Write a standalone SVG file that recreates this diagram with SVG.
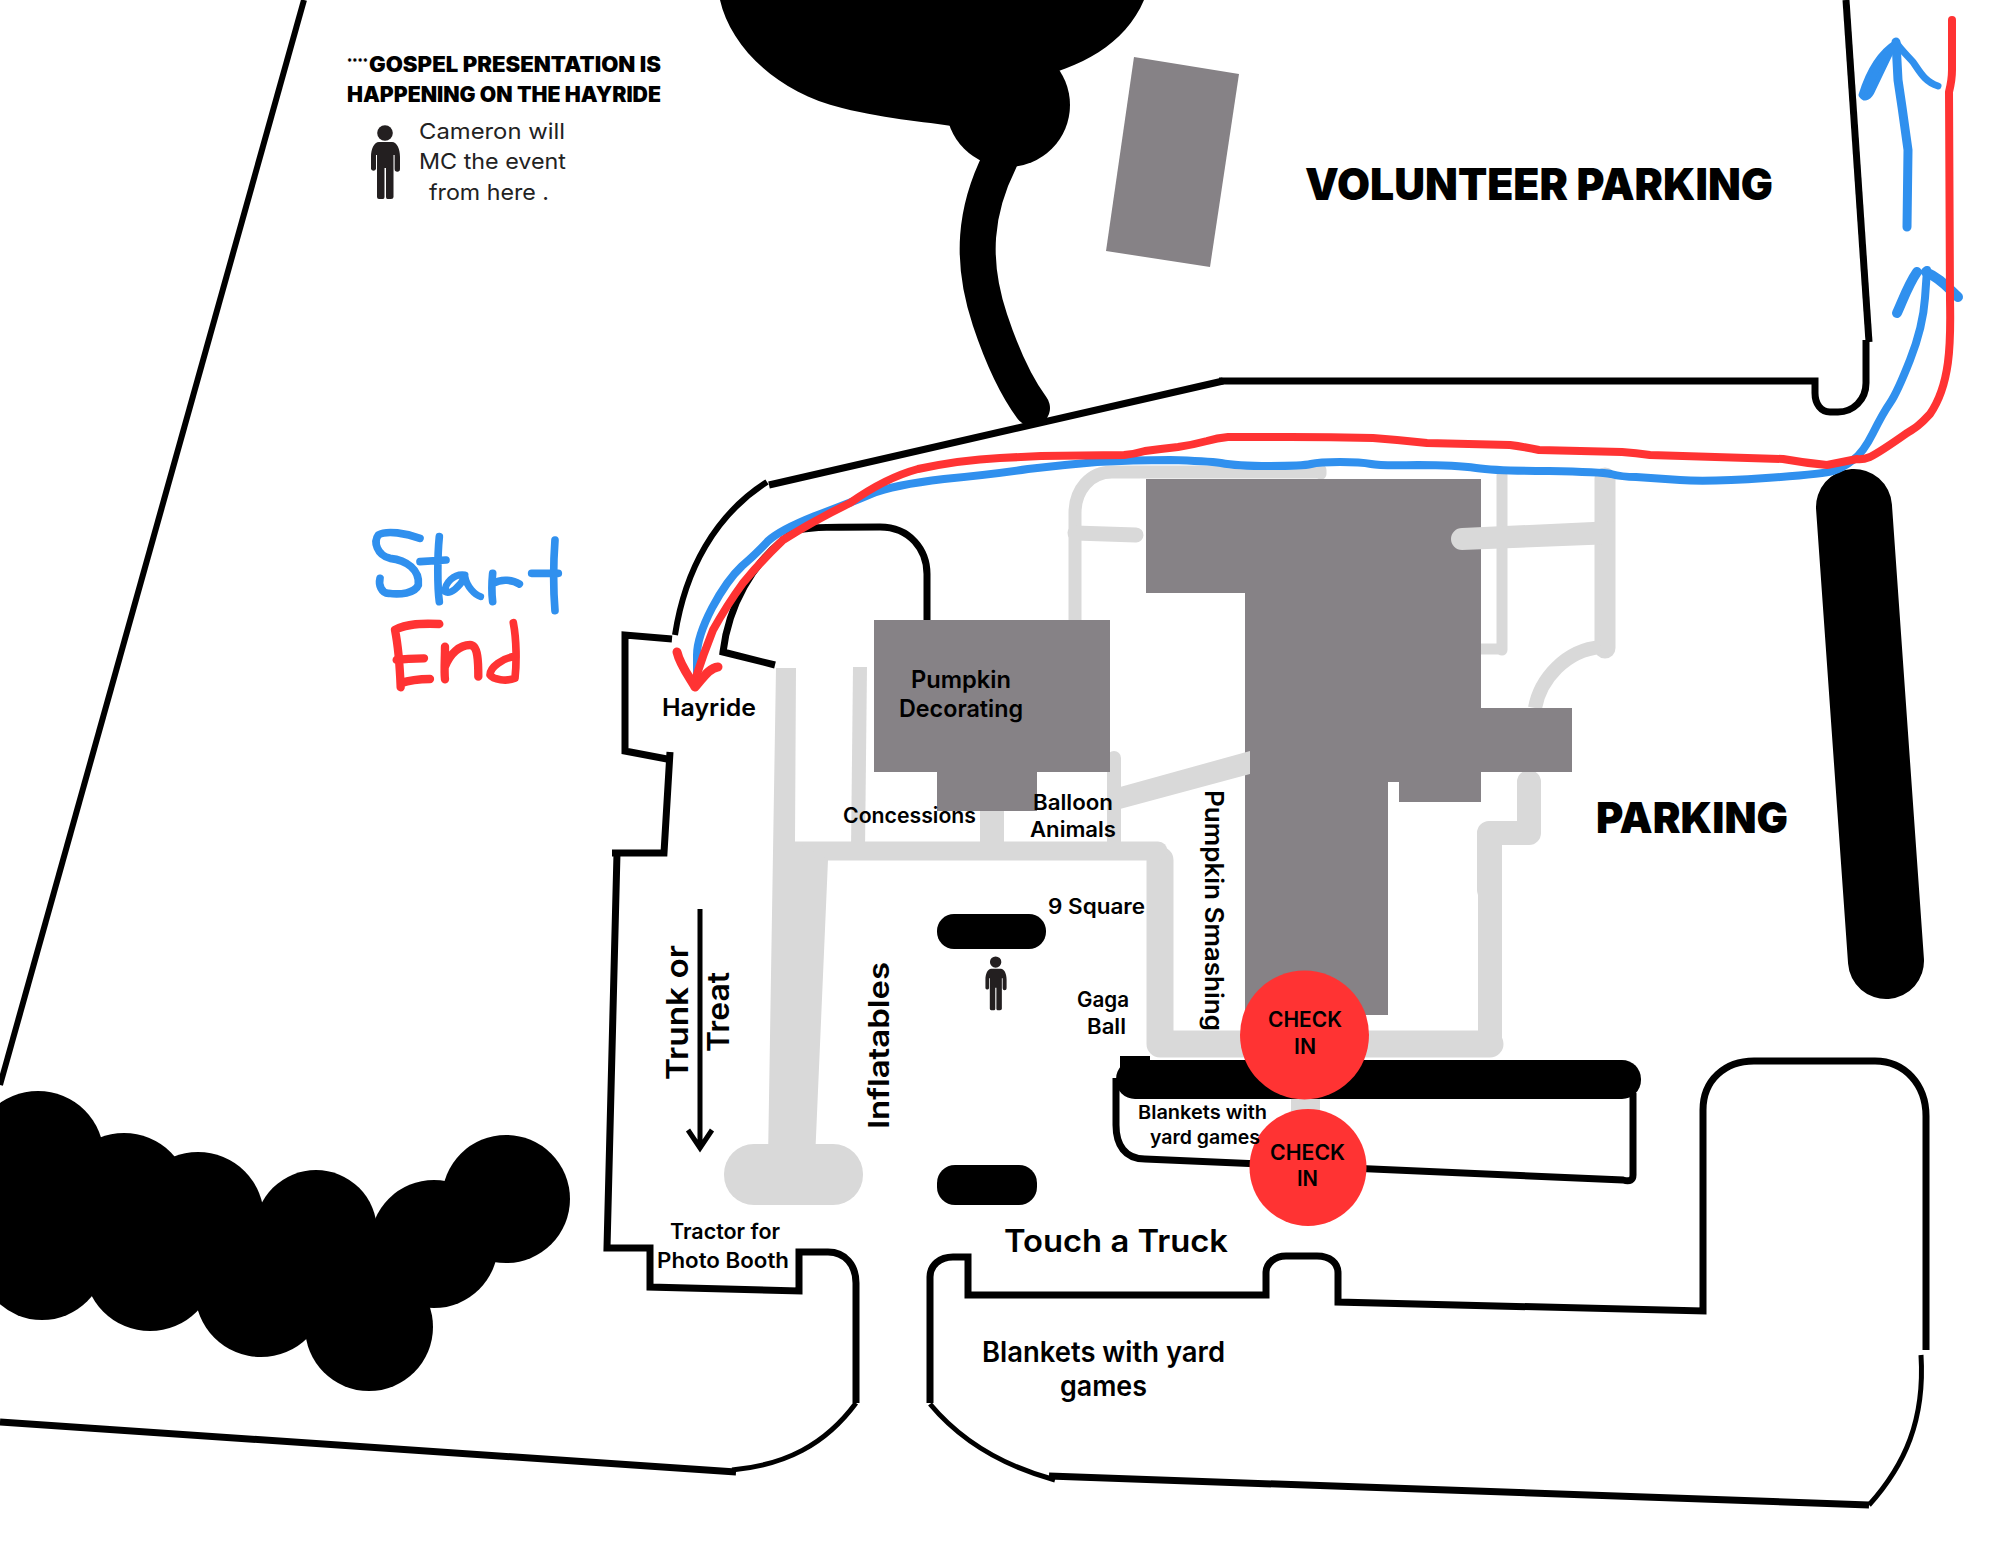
<svg xmlns="http://www.w3.org/2000/svg" width="2000" height="1545" viewBox="0 0 2000 1545">
<defs>
<style>
.w{fill:none;stroke:#000;stroke-width:7;stroke-linejoin:miter}
.t{fill:none;stroke:#000;stroke-width:5}
.p{fill:none;stroke:#d9d9d9;stroke-linecap:butt;stroke-linejoin:round}
.pr{fill:none;stroke:#d9d9d9;stroke-linecap:round;stroke-linejoin:round}
.b{fill:#868286}
.g{fill:#d9d9d9}
.k{fill:#000}
.blue{fill:none;stroke:#3090ee;stroke-linecap:round;stroke-linejoin:round}
.red{fill:none;stroke:#ff3333;stroke-linecap:round;stroke-linejoin:round}
text{font-family:"Inter","Liberation Sans",sans-serif;font-weight:600;fill:#000}
.h{font-weight:900}
.r{font-weight:400;fill:#222;font-size:22px}
.s{font-size:21px}
.m{font-size:24px}
.l{font-size:28px}
</style>
<g id="person"><circle cx="385" cy="133" r="7.8"/><path d="M379 142H392C397 142 400 149 400 157V169A2.7 2.7 0 0 1 394.6 169V155H393.5V197Q393.5 199 391 199H387.5Q386 199 386 197V168H384.5V197Q384.5 199 383 199H379Q377 199 377 197V155H376V169A2.7 2.7 0 0 1 371 169V157C371 149 374 142 379 142Z"/></g>
</defs>
<rect width="2000" height="1545" fill="#fff"/>

<g id="trees">
<path class="k" d="M720 0C730 45 775 92 842 108C890 120 930 122 965 128L1030 79C1080 68 1125 45 1144 0Z"/>
<circle class="k" cx="1008" cy="105" r="62"/>
<path fill="none" stroke="#000" stroke-width="36" stroke-linecap="round" d="M1000 160C975 210 970 260 990 320C1000 350 1015 385 1032 408"/>
<g class="k">
<circle cx="38" cy="1157" r="66"/><circle cx="42" cy="1256" r="64"/><circle cx="124" cy="1199" r="66"/><circle cx="150" cy="1265" r="66"/><circle cx="198" cy="1218" r="66"/><circle cx="261" cy="1291" r="66"/><circle cx="316" cy="1231" r="61"/><circle cx="369" cy="1327" r="64"/><circle cx="434" cy="1244" r="64"/><circle cx="506" cy="1199" r="64"/>
<path d="M0 1150L120 1190L320 1230L500 1200L440 1290L370 1330L150 1290L0 1280Z"/>
</g>
<path fill="none" stroke="#000" stroke-width="76" stroke-linecap="round" d="M1854 507L1886 961"/>
</g>

<g id="walls">
<path class="t" style="stroke-width:6" d="M304 0L0 1085"/>
<path class="w" d="M1846 0L1869 342"/>
<path class="w" d="M1866 340V383C1866 400 1853 412 1838 412H1830C1821 412 1815 404 1815 393V381H1219"/>
<path class="w" d="M1223 381L769 485"/>
<path class="t" style="stroke-width:6" d="M767 482C715 515 685 570 675 635"/>
<path class="w" d="M672 639L625 635V751L667 759"/>
<path class="w" d="M670 752L664 853H612"/>
<path class="w" d="M617 853L607 1248H650V1287L799 1291V1252H828C845 1252 856 1265 856 1283V1403"/>
<path class="t" d="M856 1403C825 1445 785 1465 732 1470"/>
<path class="w" d="M736 1472L0 1422"/>
<path class="w" d="M775 665L723 652C728 610 750 560 797 530C815 527 830 527 880 527C910 527 927 550 927 574V620"/>
<path class="w" d="M930 1403V1277C930 1265 940 1257 953 1257H968V1295H1266V1273C1266 1263 1275 1256 1286 1256H1317C1330 1256 1338 1263 1338 1273V1302L1703 1311V1110C1703 1080 1725 1061 1754 1061H1875C1905 1061 1926 1085 1926 1116V1350"/>
<path class="t" d="M1921 1355C1925 1420 1905 1465 1869 1505"/>
<path class="w" d="M1869 1505L1049 1476"/>
<path class="t" d="M1055 1480C1000 1465 960 1440 930 1404"/>
<path class="w" d="M1116 1078V1125C1116 1145 1125 1159 1145 1159L1623 1180C1630 1182 1633 1180 1633 1175V1093"/>
</g>

<g id="paths">
<path class="p" stroke-width="13" d="M1075 620V513C1075 490 1090 472 1112 472H1321"/><path class="pr" stroke-width="11" d="M1321 470V474"/>
<path class="pr" stroke-width="15" d="M1075 533L1136 535"/>
<path class="pr" stroke-width="11" d="M1502 475V650"/><path class="p" stroke-width="11" d="M1481 649H1502"/>
<path class="pr" stroke-width="21" d="M1605 478V648"/>
<path class="p" stroke-width="14" d="M1535 708C1540 680 1565 650 1601 647"/>
<path class="pr" stroke-width="24" d="M1529 782V833H1489V890"/>
<path class="p" stroke-width="24" d="M1490 833V1040"/>
<path class="pr" stroke-width="27" d="M1160 860V1044H1490"/>
<path class="pr" stroke-width="19" d="M793 851H1158"/>
<path class="g" d="M776 668L778 668H796L795 842L828 860L815 1160H768Z"/>
<rect class="g" x="724" y="1144" width="139" height="61" rx="30"/>
<path class="p" stroke-width="14" d="M860 667L858 850"/>
<rect class="g" x="980" y="805" width="24" height="42"/>
<path class="pr" stroke-width="14" d="M1114 758V845"/>
<rect class="g" x="1291" y="1095" width="29" height="20"/>
</g>

<g id="buildings">
<polygon class="b" points="1134,57 1239,74 1210,267 1106,251"/>
<polygon class="b" points="1146,479 1481,479 1481,708 1572,708 1572,772 1481,772 1481,802 1399,802 1399,782 1388,782 1388,1015 1245,1015 1245,593 1146,593"/>
<polygon class="b" points="874,620 1110,620 1110,772 1037,772 1037,811 937,811 937,772 874,772"/>
<path class="g" d="M1614 521L1462 528A11 11 0 0 0 1462 550L1614 544Z"/>
<path class="g" d="M1120 787L1250 751V774L1120 809Z"/>
</g>

<g id="obstacles">
<rect class="k" x="937" y="914" width="109" height="35" rx="17"/>
<rect class="k" x="937" y="1165" width="100" height="40" rx="18"/>
<rect class="k" x="1116" y="1060" width="525" height="39" rx="19"/>
<rect class="k" x="1120" y="1056" width="30" height="12"/>
</g>

<g id="route-lines">
<path class="blue" stroke-width="8" d="M697 673L697 655Q697 637 712 608Q727 580 742 566Q757 553 768 541Q780 530 815 516Q850 503 871 494Q893 485 944 479Q995 474 1028 469Q1062 465 1097 462Q1133 460 1170 460Q1207 461 1221 463Q1236 466 1270 466Q1303 466 1311 464Q1319 462 1340 462Q1361 462 1371 464Q1381 466 1418 465Q1456 465 1476 468Q1497 471 1549 471Q1601 472 1611 474Q1622 477 1636 477Q1650 478 1680 480Q1709 482 1766 478Q1824 474 1833 471Q1843 468 1853 460Q1863 453 1873 433Q1883 413 1890 403Q1897 393 1910 360Q1923 327 1925 298L1927 270"/>
<path class="blue" stroke-width="10" d="M1917 272C1908 285 1903 300 1897 313M1926 272C1940 278 1948 288 1958 297"/>
<path class="blue" stroke-width="9" d="M1907 227L1908 150L1902 107L1898 80L1896 42"/>
<path class="blue" stroke-width="7" d="M1938 86C1925 82 1920 72 1913 62C1907 55 1900 49 1896 42"/>
<path fill="#3090ee" stroke="#3090ee" stroke-width="5" stroke-linejoin="round" d="M1896 42C1880 52 1868 72 1861 95C1865 101 1870 97 1873 90Z"/>
<path class="red" stroke-width="8" d="M1952 20L1952 70Q1952 80 1949 92L1950 300C1951 345 1950 385 1930 414C1920 425 1915 428 1907 433C1890 445 1880 452 1870 457Q1862 460 1857 459Q1842 462 1827 465Q1805 463 1783 459Q1716 457 1650 455Q1636 453 1622 452Q1580 451 1539 450Q1525 447 1510 445Q1468 444 1427 443Q1400 440 1373 438Q1330 437 1290 437L1228 437Q1217 438 1207 441Q1192 445 1178 447Q1160 449 1145 451Q1135 454 1124 455L1041 456Q1020 457 1000 458Q960 460 918 469Q885 478 850 503Q815 520 783 540Q762 560 743 583Q727 605 713 630Q703 655 695 680"/>
<path class="red" stroke-width="9" d="M677 652C680 665 690 678 695 687C702 680 708 668 718 667"/>
</g>

<g id="start-end" transform="translate(350 480) scale(.3333)">
<path class="blue" stroke-width="23" d="M210 175C170 160 110 150 85 165C70 185 80 225 120 235C170 240 210 270 205 315C195 340 150 345 115 340C95 340 85 315 90 295"/>
<path class="blue" stroke-width="23" d="M268 170C262 230 262 320 268 365M210 245L288 240"/>
<path class="blue" stroke-width="21" d="M345 285C310 280 285 310 285 335C300 345 330 320 345 290C350 320 375 345 392 350"/>
<path class="blue" stroke-width="23" d="M428 280C425 310 425 340 428 365M430 310C455 295 490 300 508 312"/>
<path class="blue" stroke-width="23" d="M615 180C610 250 610 330 615 392M545 280L625 280"/>
<path class="red" stroke-width="25" d="M268 432C220 430 170 430 135 450C145 500 150 570 152 622M140 540C170 535 200 535 222 535M152 610C180 600 210 597 240 597"/>
<path class="red" stroke-width="25" d="M285 500C285 540 282 570 285 598M285 560C300 520 330 495 360 495C385 495 385 550 385 590"/>
<path class="red" stroke-width="23" d="M490 428C500 480 500 550 495 595C470 605 430 600 420 585C420 560 460 535 490 530"/>
</g>

<g id="check-in-1"><circle cx="1304.500" cy="1035" r="64.500" fill="#ff3333"/>
<text x="1268" y="1027" textLength="74" lengthAdjust="spacingAndGlyphs" class="s">CHECK</text>
<text x="1294" y="1054" textLength="22" lengthAdjust="spacingAndGlyphs" class="s">IN</text></g>
<g id="check-in-2"><circle cx="1308" cy="1167.500" r="58.500" fill="#ff3333"/>
<text x="1270" y="1160" textLength="75" lengthAdjust="spacingAndGlyphs" class="s">CHECK</text>
<text x="1297" y="1186" textLength="21" lengthAdjust="spacingAndGlyphs" class="s">IN</text></g>

<g id="trunk-arrow">
<path fill="none" stroke="#000" stroke-width="5" d="M700 909V1148M688 1130L700 1148L712 1130"/>
</g>

<g id="mc-note">
<use href="#person" fill="#231f20"/>
<use href="#person" fill="#231f20" transform="translate(714.600 865) scale(.73)"/>
<text x="347" y="66" textLength="21" lengthAdjust="spacingAndGlyphs" class="h" font-size="10">****</text>
<text x="369" y="72" textLength="292" lengthAdjust="spacingAndGlyphs" class="h" font-size="21">GOSPEL PRESENTATION IS</text>
<text x="347" y="102" textLength="314" lengthAdjust="spacingAndGlyphs" class="h" font-size="21">HAPPENING ON THE HAYRIDE</text>
<text x="419" y="139" textLength="146" lengthAdjust="spacingAndGlyphs" class="r">Cameron will</text>
<text x="419" y="169" textLength="147" lengthAdjust="spacingAndGlyphs" class="r">MC the event</text>
<text x="429" y="200" textLength="120" lengthAdjust="spacingAndGlyphs" class="r">from here .</text>
</g>

<g id="labels">
<text x="1305" y="200" textLength="468" lengthAdjust="spacingAndGlyphs" class="h" font-size="44">VOLUNTEER PARKING</text>
<text x="1596" y="833" textLength="192" lengthAdjust="spacingAndGlyphs" class="h" font-size="42">PARKING</text>
<text x="662" y="716" textLength="94" lengthAdjust="spacingAndGlyphs" class="m">Hayride</text>
<text x="911" y="688" textLength="100" lengthAdjust="spacingAndGlyphs" class="m">Pumpkin</text>
<text x="899" y="717" textLength="124" lengthAdjust="spacingAndGlyphs" class="m">Decorating</text>
<text x="843" y="823" textLength="133" lengthAdjust="spacingAndGlyphs" class="s">Concessions</text>
<text x="1033" y="810" textLength="80" lengthAdjust="spacingAndGlyphs" class="s">Balloon</text>
<text x="1030" y="837" textLength="86" lengthAdjust="spacingAndGlyphs" class="s">Animals</text>
<text x="1048" y="914" textLength="97" lengthAdjust="spacingAndGlyphs" class="s">9 Square</text>
<text x="1077" y="1007" textLength="52" lengthAdjust="spacingAndGlyphs" class="s">Gaga</text>
<text x="1087" y="1034" textLength="39" lengthAdjust="spacingAndGlyphs" class="s">Ball</text>
<text x="1138" y="1119" textLength="129" lengthAdjust="spacingAndGlyphs" font-size="19">Blankets with</text>
<text x="1150" y="1144" textLength="110" lengthAdjust="spacingAndGlyphs" font-size="19">yard games</text>
<text x="1004" y="1252" textLength="224" lengthAdjust="spacingAndGlyphs" font-size="31">Touch a Truck</text>
<text x="670" y="1239" textLength="110" lengthAdjust="spacingAndGlyphs" class="s">Tractor for</text>
<text x="657" y="1268" textLength="132" lengthAdjust="spacingAndGlyphs" class="s">Photo Booth</text>
<text x="982" y="1362" textLength="243" lengthAdjust="spacingAndGlyphs" class="l">Blankets with yard</text>
<text x="1060" y="1396" textLength="87" lengthAdjust="spacingAndGlyphs" class="l">games</text>
<text transform="translate(688 1080) rotate(-90)" textLength="135" lengthAdjust="spacingAndGlyphs" style="font-size:30px">Trunk or</text>
<text transform="translate(729 1052) rotate(-90)" textLength="80" lengthAdjust="spacingAndGlyphs" style="font-size:30px">Treat</text>
<text transform="translate(889 1129) rotate(-90)" textLength="167" lengthAdjust="spacingAndGlyphs" style="font-size:29px">Inflatables</text>
<text transform="translate(1205 790) rotate(90)" textLength="241" lengthAdjust="spacingAndGlyphs" style="font-size:25px">Pumpkin Smashing</text>
</g>
</svg>
